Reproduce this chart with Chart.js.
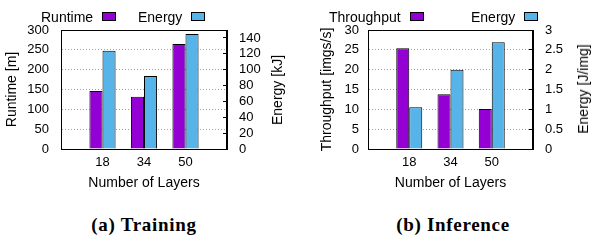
<!DOCTYPE html>
<html>
<head>
<meta charset="utf-8">
<script src="https://cdn.jsdelivr.net/npm/chart.js@4/dist/chart.umd.min.js"></script>
<style>
  html, body { margin: 0; padding: 0; background: #fff; }
  #wrap { position: relative; width: 592px; height: 242px; font-family: "Liberation Sans", Arial, sans-serif; color: #000; }
  canvas { position: absolute; top: 0; }
  .legend { position: absolute; font-size: 14px; line-height: 16px; white-space: nowrap; }
  .legend .box { display: inline-block; width: 12px; height: 7px; border: 1px solid #000; margin-left: 9px; vertical-align: 1px; }
  .ytitle { position: absolute; font-size: 14px; white-space: nowrap; transform: translate(-50%, -50%) rotate(-90deg); }
  .caption { position: absolute; font-family: "Liberation Serif", serif; font-weight: bold; font-size: 19px; letter-spacing: 0.7px; transform: translate(-50%, -50%); white-space: nowrap; }
</style>
</head>
<body>
<div id="wrap">
  <canvas id="trainChart" width="296" height="195" style="left:0"></canvas>
  <canvas id="inferChart" width="296" height="195" style="left:296px"></canvas>

  <div class="legend" style="left:41px;top:9px">Runtime<span class="box" id="lgA1"></span></div>
  <div class="legend" style="left:138px;top:9px">Energy<span class="box" id="lgA2"></span></div>
  <div class="legend" style="left:329px;top:9px">Throughput<span class="box" id="lgB1"></span></div>
  <div class="legend" style="left:471px;top:9px">Energy<span class="box" id="lgB2"></span></div>

  <div class="ytitle" style="left:277px;top:90px">Energy [kJ]</div>
  <div class="ytitle" style="left:583px;top:89px">Energy [J/img]</div>

  <div class="caption" style="left:144px;top:225px">(a) Training</div>
  <div class="caption" style="left:453px;top:225px">(b) Inference</div>
</div>

<script>
// Données
const layers = ['18', '34', '50'];
const trainRuntime = [146, 132, 265];      // minutes
const trainEnergy = [124, 92, 145];        // kJ
const inferThroughput = [25.4, 13.8, 10.1]; // imgs/s
const inferEnergy = [1.05, 2.0, 2.69];     // J/img

const leftTicks = { train: { max: 300, step: 50 }, infer: { max: 30, step: 5 } };
const rightTicks = { train: { max: 150, step: 20 }, infer: { max: 3, step: 0.5 } };

const purple = '#9400D3';
const skyBlue = '#56B4E9';

document.getElementById('lgA1').style.background = purple;
document.getElementById('lgA2').style.background = skyBlue;
document.getElementById('lgB1').style.background = purple;
document.getElementById('lgB2').style.background = skyBlue;

// catégories vides aux deux bouts, comme gnuplot (plage 0..4)
const xLabels = [''].concat(layers, ['']);
function pad(arr) { return [null].concat(arr, [null]); }

// cadre noir autour de la zone de tracé
const frame = {
    id: 'frame',
    afterDraw(chart) {
        const a = chart.chartArea;
        const ctx = chart.ctx;
        ctx.save();
        ctx.strokeStyle = '#000';
        ctx.lineWidth = 1;
        ctx.strokeRect(Math.round(a.left) + 0.5, Math.round(a.top) + 0.5,
                       Math.round(a.right - a.left) - 1, Math.round(a.bottom - a.top));
        ctx.restore();
    }
};

function makeChart(id, leftTitle, leftData, rightData, lt, rt, sizes) {
    return new Chart(document.getElementById(id), {
        type: 'bar',
        data: {
            labels: xLabels,
            datasets: [{
                data: pad(leftData),
                yAxisID: 'y',
                backgroundColor: purple,
                borderColor: '#000',
                borderWidth: 1,
                categoryPercentage: 0.63,
                barPercentage: 1
            }, {
                data: pad(rightData),
                yAxisID: 'y1',
                backgroundColor: skyBlue,
                borderColor: '#000',
                borderWidth: 1,
                categoryPercentage: 0.63,
                barPercentage: 1
            }]
        },
        options: {
            responsive: false,
            animation: false,
            layout: { padding: { top: 30, left: 0, right: 0, bottom: 0 } },
            plugins: { legend: { display: false }, tooltip: { enabled: false } },
            scales: {
                x: {
                    offset: false,
                    grid: { offset: false, drawOnChartArea: false, drawTicks: false },
                    border: { color: '#000' },
                    ticks: { color: '#000', font: { family: 'Liberation Sans', size: 13 }, padding: 6, autoSkip: false, maxRotation: 0 },
                    title: { display: true, text: 'Number of Layers', color: '#000', font: { family: 'Liberation Sans', size: 14 }, padding: { top: 0, bottom: 3 } },
                    afterFit(scale) { scale.height = 46; }
                },
                y: {
                    position: 'left',
                    min: 0,
                    max: lt.max,
                    grid: { color: '#a0a0a0', drawTicks: false },
                    border: { color: '#000', dash: [1, 2] },
                    ticks: { stepSize: lt.step, autoSkip: false, color: '#000', font: { family: 'Liberation Sans', size: 13 }, padding: sizes.leftPad },
                    title: { display: true, text: leftTitle, color: '#000', font: { family: 'Liberation Sans', size: 14 }, padding: { top: sizes.titlePad, bottom: 0 } },
                    afterFit(scale) { scale.width = sizes.leftW; }
                },
                y1: {
                    position: 'right',
                    min: 0,
                    max: rt.max,
                    grid: { drawOnChartArea: false, tickLength: -4, tickColor: '#000' },
                    border: { color: '#000' },
                    ticks: {
                        stepSize: rt.step,
                        includeBounds: false,
                        autoSkip: false,
                        color: '#000',
                        font: { family: 'Liberation Sans', size: 13 },
                        padding: 16,
                        callback: function(value) { return String(value); }
                    },
                    afterFit(scale) { scale.width = sizes.rightW; }
                }
            }
        },
        plugins: [frame]
    });
}

makeChart('trainChart', 'Runtime [m]', trainRuntime, trainEnergy,
          leftTicks.train, rightTicks.train,
          { leftW: 61, rightW: 69, leftPad: 12, titlePad: 4 });
makeChart('inferChart', 'Throughput [imgs/s]', inferThroughput, inferEnergy,
          leftTicks.infer, rightTicks.infer,
          { leftW: 72, rightW: 59, leftPad: 9, titlePad: 23 });
</script>
</body>
</html>
